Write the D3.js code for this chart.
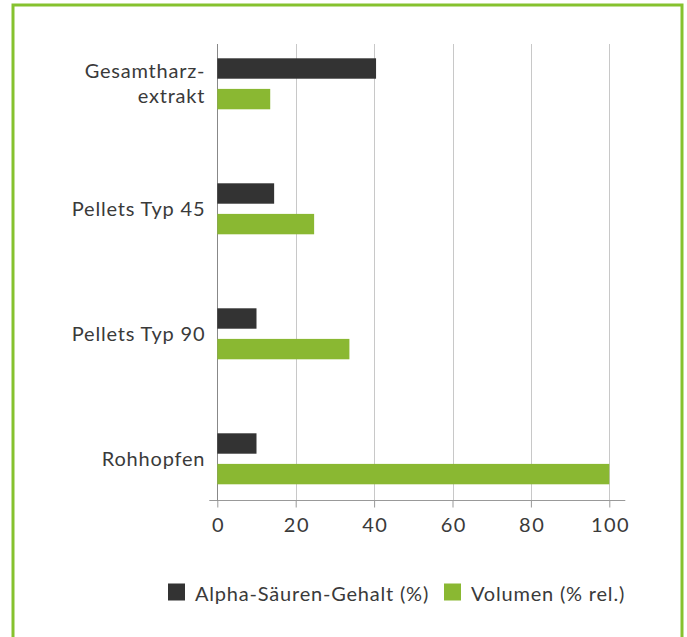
<!DOCTYPE html>
<html>
<head>
<meta charset="utf-8">
<script src="https://cdn.jsdelivr.net/npm/d3@7"></script>
<style>
  body { margin: 0; background: #fff; }
  svg text { font-family: Lato, "Open Sans", sans-serif; fill: #3a3a3a; letter-spacing: 0.8px; }
</style>
</head>
<body>
<svg id="chart" width="687" height="637"></svg>
<script>
// data
var categories = ["Gesamtharz-\nextrakt", "Pellets Typ 45", "Pellets Typ 90", "Rohhopfen"];
var seriesNames = ["Alpha-Säuren-Gehalt (%)", "Volumen (% rel.)"];
var alphaValues = [40.5, 14.5, 10, 10];
var volumeValues = [13.5, 24.7, 33.7, 100];
var xTicks = [0, 20, 40, 60, 80, 100];
var colors = ["#333333", "#8ab832"];

var svg = d3.select("#chart");

// green frame (open at the bottom)
svg.append("path")
  .attr("d", "M13,640 L13,5 L682,5 L682,640")
  .attr("fill", "none").attr("stroke", "#86c22e").attr("stroke-width", 3);

var x = d3.scaleLinear().domain([0, 100]).range([217.3, 609.3]);
var y = d3.scaleBand().domain(categories).range([21.3, 521.3])
  .paddingInner(0.592).paddingOuter(0.296);
var ySub = d3.scaleBand().domain(seriesNames).range([0, y.bandwidth()]).paddingInner(0.333);

var gridTop = 44, axisY = 500.5;

// grid
svg.append("g").selectAll("line").data(xTicks.slice(1)).join("line")
  .attr("x1", d => Math.round(x(d)) + 0.5).attr("x2", d => Math.round(x(d)) + 0.5)
  .attr("y1", gridTop).attr("y2", axisY)
  .attr("stroke", "#c8c8c8").attr("stroke-width", 1);

// x axis
var xAxis = svg.append("g").attr("transform", "translate(0," + axisY + ")")
  .call(d3.axisBottom(x).tickValues(xTicks).tickSize(7).tickPadding(10));
xAxis.select(".domain").remove();
xAxis.selectAll(".tick line").attr("stroke", "#999");
xAxis.selectAll(".tick text").style("font-size", "20px").attr("fill", "#3a3a3a")
  .style("font-family", "Lato, sans-serif")
  .style("letter-spacing", "1.5px").attr("dx", "0.75px");
xAxis.append("line").attr("x1", x(0) - 8).attr("x2", x(100) + 16)
  .attr("y1", 0).attr("y2", 0).attr("stroke", "#999");

// y axis line
svg.append("line")
  .attr("x1", Math.round(x(0)) + 0.5).attr("x2", Math.round(x(0)) + 0.5)
  .attr("y1", gridTop).attr("y2", axisY)
  .attr("stroke", "#888");

// bars
var rows = categories.map(function(c, i) {
  return { cat: c, vals: [alphaValues[i], volumeValues[i]] };
});
var groups = svg.append("g").selectAll("g").data(rows).join("g")
  .attr("transform", d => "translate(0," + y(d.cat) + ")");
groups.selectAll("rect").data(d => d.vals.map((v, j) => ({ name: seriesNames[j], v: v, j: j })))
  .join("rect")
  .attr("x", x(0)).attr("y", d => ySub(d.name))
  .attr("width", d => x(d.v) - x(0)).attr("height", ySub.bandwidth())
  .attr("fill", d => colors[d.j]);

// category labels
var labels = svg.append("g").selectAll("text").data(categories).join("text")
  .attr("text-anchor", "end")
  .attr("x", x(0) - 12)
  .style("font-size", "20px");
labels.each(function(d) {
  var lines = d.split("\n");
  var cy = y(d) + y.bandwidth() / 2;
  var t = d3.select(this);
  lines.forEach(function(l, k) {
    t.append("tspan").attr("x", x(0) - 12)
      .attr("y", cy + 7 + (k - (lines.length - 1) / 2) * 25)
      .text(l);
  });
});

// legend
var legend = svg.append("g");
var legendX = [168, 444];
seriesNames.forEach(function(n, i) {
  legend.append("rect").attr("x", legendX[i]).attr("y", 583.5)
    .attr("width", 17).attr("height", 17).attr("fill", colors[i]);
  legend.append("text").attr("x", legendX[i] + 27).attr("y", 600.5)
    .style("font-size", "20px").text(n);
});
</script>
</body>
</html>
